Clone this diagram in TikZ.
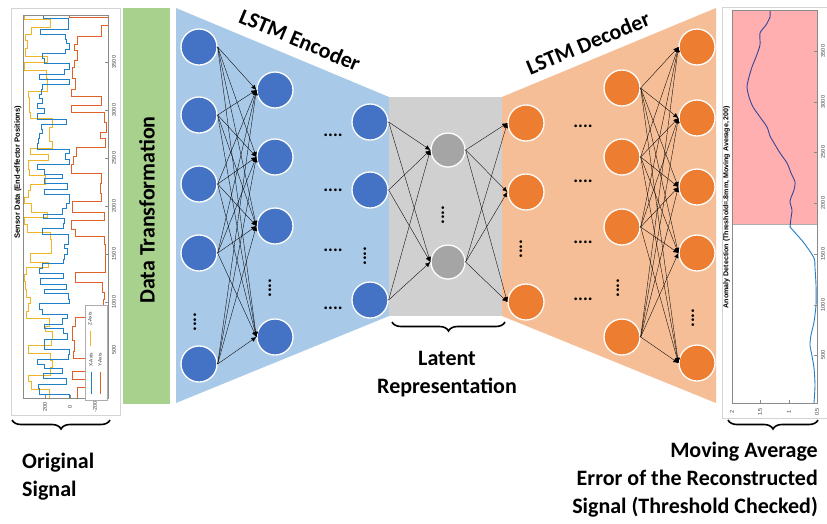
\documentclass[tikz,border=0pt]{standalone}
\usepackage{fontspec}
\setmainfont{Carlito}
\newfontfamily\plotfont{Liberation Sans}
\usetikzlibrary{arrows.meta,decorations.pathreplacing}

\definecolor{encfill}{HTML}{A9C9E8}
\definecolor{encnode}{HTML}{4472C4}
\definecolor{latfill}{HTML}{D0D0D0}
\definecolor{latnode}{HTML}{A5A5A5}
\definecolor{decfill}{HTML}{F5BE97}
\definecolor{decnode}{HTML}{ED7D31}
\definecolor{greenbar}{HTML}{A9D18E}
\definecolor{pinkzone}{HTML}{FFAFB0}
\definecolor{mblue}{HTML}{1F7FC8}
\definecolor{morange}{HTML}{E0602A}
\definecolor{myellow}{HTML}{F0B429}
\definecolor{navyline}{HTML}{33479A}
\definecolor{axisgray}{HTML}{8A8A8A}
\definecolor{framegray}{HTML}{D4D4D4}

\begin{document}
\begin{tikzpicture}[x=1pt,y=-1pt,
  neuron/.style={circle, minimum size=36pt, inner sep=0pt, draw=white, line width=1.3pt},
  enc/.style={neuron, fill=encnode},
  lat/.style={neuron, fill=latnode, minimum size=34pt},
  dec/.style={neuron, fill=decnode},
  arr/.style={-{Latex[length=5pt,width=4.5pt]}, line width=0.35pt, black},
  hdots/.style={font=\bfseries\fontsize{18}{18}\selectfont, inner sep=0pt},
  vdots/.style={hdots, rotate=90},
  lbl/.style={font=\bfseries\fontsize{22}{28}\selectfont, inner sep=0pt},
  mybrace/.style={decorate, decoration={brace, mirror, amplitude=9pt}, line width=1.6pt},
  ticklbl/.style={font=\plotfont\fontsize{5.5}{6}\selectfont, inner sep=0pt, text=black!75, rotate=90},
  legtxt/.style={font=\plotfont\fontsize{4.8}{5}\selectfont, inner sep=0pt, text=black!80, rotate=90},
  sig/.style={line width=1pt},
]
\useasboundingbox (0,0) rectangle (827,523);
\fill[white] (0,0) rectangle (827,523);

% ---------------- left plot ----------------
\draw[framegray, fill=white, line width=0.5pt] (11,8) rectangle (120,415);
\begin{scope}
  \clip (23,15) rectangle (108,398);
  \pgfmathsetseed{3}
  \draw[sig, myellow] (40,398) \foreach \i in {1,...,58}{ -| ({24+9*rnd+20*round(rnd)}, {398-\i*7.1-3*rnd}) };
  \pgfmathsetseed{17}
  \draw[sig, mblue] (60,398) \foreach \i in {1,...,80}{ -| ({37+8*rnd+25*round(rnd)}, {400-\i*5.0-2*rnd}) };
  \pgfmathsetseed{9}
  \draw[sig, morange] (75,398) \foreach \i in {1,...,46}{ -| ({69+9*rnd+31*round(rnd)}, {398-\i*8.8-5*rnd}) };
\end{scope}
\draw[axisgray, line width=0.4pt] (23,15) rectangle (108,398);
\foreach \xv in {45,70,95} \draw[axisgray, line width=0.4pt] (\xv,398) -- (\xv,395);
\foreach \yv in {62,110,158,206,254,302,350} \draw[axisgray, line width=0.4pt] (108,\yv) -- (105,\yv);
\node[ticklbl] (lt1) at (45,407) {200};
\node[ticklbl] (lt2) at (70,407) {0};
\node[ticklbl] (lt3) at (95,407) {-200};
\foreach \yv/\lab in {62/3500,110/3000,158/2500,206/2000,254/1500,302/1000,350/500}
  \node[ticklbl] at (114,\yv) {\lab};
\node[font=\plotfont\bfseries\fontsize{7.6}{8}\selectfont, rotate=90, inner sep=0pt] (ltitle) at (18,172) {Sensor Data (End-effector Positions)};
% legend
\draw[axisgray!70, fill=white, line width=0.4pt] (85,305) rectangle (107,400);
\draw[myellow, line width=0.9pt] (90,346) -- (90,331);
\node[legtxt] (lz) at (90,319) {Z-Axis};
\draw[mblue, line width=0.9pt] (91,394) -- (91,372);
\node[legtxt] (lx) at (91,360) {X-Axis};
\draw[morange, line width=0.9pt] (100,394) -- (100,372);
\node[legtxt] (ly) at (100,360) {Y-Axis};

% ---------------- green bar ----------------
\fill[greenbar] (123,8) rectangle (170,404);
\node[lbl, rotate=90] (dt) at (147,210) {Data Transformation};

% ---------------- regions ----------------
\fill[encfill] (176,8) -- (389,97) -- (389,316) -- (176,403) -- cycle;
\fill[latfill] (389,97) rectangle (502,316);
\fill[decfill] (502,97) -- (716,8) -- (716,403) -- (502,316) -- cycle;

% ---------------- encoder ----------------
\foreach \n/\yy in {1/47,2/115,3/184,4/253,5/364} \node[enc] (a\n) at (199,\yy) {};
\node[vdots] (av) at (195,322) {....};
\foreach \n/\yy in {1/90,2/157,3/226,4/337} \node[enc] (b\n) at (275,\yy) {};
\node[vdots] (bv) at (270,288) {....};
\foreach \n/\yy in {1/122,2/190,3/300} \node[enc] (c\n) at (370,\yy) {};
\node[vdots] (cv) at (365,256) {....};
\foreach \n/\yy in {1/135,2/190,3/250,4/308} \node[hdots] (eh\n) at (333,\yy) {....};

% ---------------- latent ----------------
\foreach \n/\yy in {1/150,2/262} \node[lat] (l\n) at (448,\yy) {};
\node[vdots] (lv) at (443,215) {....};

% ---------------- decoder ----------------
\foreach \n/\yy in {1/123,2/192,3/302} \node[dec] (d\n) at (526,\yy) {};
\node[vdots] (dv) at (521,249) {....};
\foreach \n/\yy in {1/126,2/181,3/242,4/299} \node[hdots] (dh\n) at (583,\yy) {....};
\foreach \n/\yy in {1/88,2/157,3/227,4/337} \node[dec] (f\n) at (622,\yy) {};
\node[vdots] (fv) at (618,288) {....};
\foreach \n/\yy in {1/47,2/118,3/187,4/253,5/363} \node[dec] (g\n) at (697,\yy) {};
\node[vdots] (gv) at (693,318) {....};

% ---------------- connections ----------------
\foreach \s in {1,...,5} \foreach \t in {1,...,4} \draw[arr] (a\s.east) -- (b\t.west);
\foreach \s in {1,2,3} \foreach \t in {1,2} \draw[arr] (c\s.east) -- (l\t.west);
\foreach \s in {1,2} \foreach \t in {1,2,3} \draw[arr] (l\s.east) -- (d\t.west);
\foreach \s in {1,...,4} \foreach \t in {1,...,5} \draw[arr] (f\s.east) -- (g\t.west);

% ---------------- titles ----------------
\node[lbl, rotate=-22.8] (enct) at (300,40) {LSTM Encoder};
\node[lbl, rotate=22.6] (dect) at (588,43) {LSTM Decoder};

% ---------------- right plot ----------------
\draw[framegray, fill=white, line width=0.5pt] (722,7) rectangle (832,418);
\fill[pinkzone] (732,10) rectangle (817,224);
\draw[axisgray!70, line width=0.4pt] (732,224) -- (817,224);
\draw[mblue, line width=0.9pt] plot[smooth, tension=0.4] coordinates {(814,403) (815,385) (814,368) (812,356) (810,345) (811,335) (814,322) (816,305) (816,285) (815,268) (814,258) (804,243) (790,227)};
\draw[navyline, line width=0.9pt] plot[smooth, tension=0.4] coordinates {(790,227) (791,218) (792,210) (790,201) (794,190) (795,182) (791,173) (787,163) (780,153) (774,143) (770,136) (767,127) (760,117) (753,107) (749,97) (747,87) (749,77) (752,67) (756,57) (760,45) (760,33) (766,25) (770,17) (770,11)};
\draw[axisgray, line width=0.4pt] (732,10) rectangle (817,403);
\foreach \xv in {732,760,789,817} \draw[axisgray, line width=0.4pt] (\xv,403) -- (\xv,400);
\foreach \yv in {51,102,152,203,254,305,355} \draw[axisgray, line width=0.4pt] (817,\yv) -- (814,\yv);
\foreach \xv/\lab in {732/2,760/1.5,789/1,817/0.5} \node[ticklbl] at (\xv,412) {\lab};
\foreach \yv/\lab in {51/3500,102/3000,152/2500,203/2000,254/1500,305/1000,355/500}
  \node[ticklbl] at (823,\yv) {\lab};
\node[font=\plotfont\bfseries\fontsize{7.1}{7.5}\selectfont, rotate=90, inner sep=0pt] (rtitle) at (726.5,207) {Anomaly Detection (Threshold=.8mm, Moving Average, 200)};

% ---------------- braces and labels ----------------
\coordinate (bl1) at (12,420); \coordinate (bl2) at (110,420);
\coordinate (bm1) at (392,322); \coordinate (bm2) at (505,322);
\coordinate (br1) at (728,420); \coordinate (br2) at (818,420);
\draw[mybrace] (bl1) -- (bl2);
\draw[mybrace] (bm1) -- (bm2);
\draw[mybrace] (br1) -- (br2);
\node[lbl, align=center] (latl) at (447,374) {Latent\\Representation};
\node[lbl, align=left, anchor=west] (origl) at (22,477) {Original\\Signal};
\node[lbl, align=right, anchor=east] (movl) at (818,480) {Moving Average\\Error of the Reconstructed\\Signal (Threshold Checked)};
\end{tikzpicture}
\end{document}
